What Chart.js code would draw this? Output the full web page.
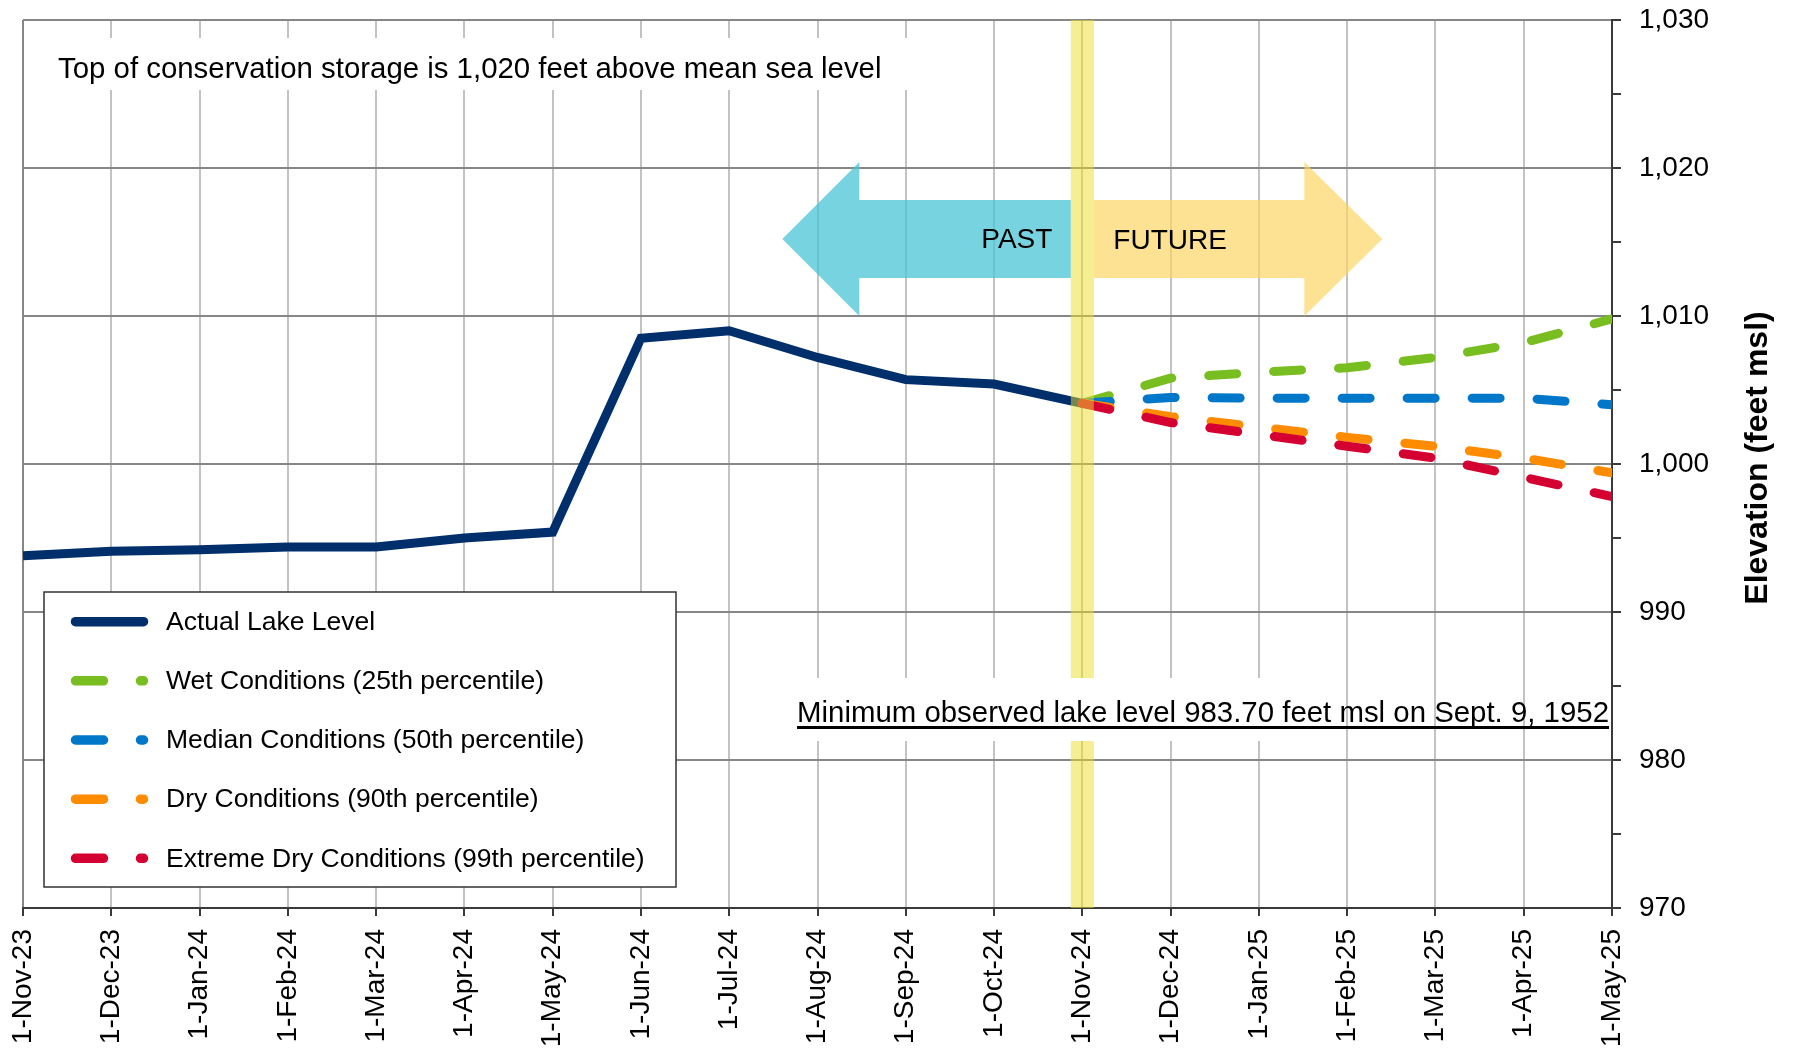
<!DOCTYPE html>
<html>
<head>
<meta charset="utf-8">
<title>Lake Level Projection</title>
<script src="https://cdn.jsdelivr.net/npm/chart.js@4.4.1/dist/chart.umd.min.js"></script>
<style>
  html, body { margin: 0; padding: 0; background: #fff; }
  #wrap { width: 1798px; height: 1049px; }
</style>
</head>
<body>
<div id="wrap"><canvas id="chart" width="1798" height="1049"></canvas></div>
<script>
const MONTHS = [
  '1-Nov-23', '1-Dec-23', '1-Jan-24', '1-Feb-24', '1-Mar-24', '1-Apr-24', '1-May-24',
  '1-Jun-24', '1-Jul-24', '1-Aug-24', '1-Sep-24', '1-Oct-24', '1-Nov-24', '1-Dec-24',
  '1-Jan-25', '1-Feb-25', '1-Mar-25', '1-Apr-25', '1-May-25'
];

// observed monthly elevations, Nov-23 .. Nov-24
const ACTUAL_LEVEL = [993.8, 994.1, 994.2, 994.4, 994.4, 995.0, 995.4, 1008.5, 1009.0, 1007.2, 1005.7, 1005.4, 1004.1];

// projections, Nov-24 .. May-25
const WET_LEVEL = [1004.1, 1005.8, 1006.2, 1006.5, 1007.2, 1008.2, 1009.8];
const MEDIAN_LEVEL = [1004.1, 1004.5, 1004.45, 1004.45, 1004.45, 1004.45, 1004.0];
const DRY_LEVEL = [1004.1, 1003.2, 1002.5, 1001.8, 1001.2, 1000.4, 999.4];
const EXTREME_DRY_LEVEL = [1004.1, 1002.8, 1002.0, 1001.2, 1000.4, 999.1, 997.8];

const NOW_INDEX = 12; // 1-Nov-24
const ARROW_LEVEL = 1015.2;

const FONT = "'Liberation Sans', Arial, Helvetica, sans-serif";
const DASH = [28, 37];

Chart.defaults.font.family = FONT;
Chart.defaults.color = '#000';

// forecasts start where the observed record stops
function fromNow(values) {
  return new Array(NOW_INDEX).fill(null).concat(values);
}

function drawArrow(ctx, base, neck, tip, cy, color) {
  const shaft = 39, head = 77;
  ctx.beginPath();
  ctx.moveTo(base, cy - shaft);
  ctx.lineTo(neck, cy - shaft);
  ctx.lineTo(neck, cy - head);
  ctx.lineTo(tip, cy);
  ctx.lineTo(neck, cy + head);
  ctx.lineTo(neck, cy + shaft);
  ctx.lineTo(base, cy + shaft);
  ctx.closePath();
  ctx.fillStyle = color;
  ctx.fill();
}

const BAND_HALF = 11.5;

const overlays = {
  id: 'overlays',
  beforeDatasetsDraw(chart) {
    const { ctx, scales: { x, y } } = chart;
    const bx = x.getPixelForValue(NOW_INDEX);
    const cy = y.getPixelForValue(ARROW_LEVEL);
    ctx.save();
    drawArrow(ctx, bx - BAND_HALF, bx - 223, bx - 300, cy, 'rgba(73,196,212,0.75)');
    drawArrow(ctx, bx + BAND_HALF, bx + 222, bx + 300, cy, 'rgba(252,212,96,0.68)');
    ctx.fillStyle = '#000';
    ctx.font = '28px ' + FONT;
    ctx.textBaseline = 'middle';
    ctx.textAlign = 'right';
    ctx.fillText('PAST', bx - 30, cy + 1);
    ctx.textAlign = 'left';
    ctx.fillText('FUTURE', bx + 31, cy + 2);
    ctx.restore();
  },
  afterDatasetsDraw(chart) {
    const { ctx, chartArea: area, scales: { x } } = chart;
    const bx = x.getPixelForValue(NOW_INDEX);
    ctx.save();

    // today marker
    ctx.fillStyle = 'rgba(238,222,40,0.5)';
    ctx.fillRect(bx - BAND_HALF, area.top, BAND_HALF * 2, area.bottom - area.top);

    // notes
    ctx.fillStyle = '#fff';
    ctx.fillRect(30, 38, 920, 52);
    ctx.fillRect(765, 678, 540, 63);
    ctx.fillStyle = '#000';
    ctx.font = '29.4px ' + FONT;
    ctx.textBaseline = 'alphabetic';
    ctx.textAlign = 'left';
    ctx.fillText('Top of conservation storage is 1,020 feet above mean sea level', 58, 78);
    const minNote = 'Minimum observed lake level 983.70 feet msl on Sept. 9, 1952';
    const w = ctx.measureText(minNote).width;
    ctx.textAlign = 'right';
    ctx.fillText(minNote, 1609, 721.5);
    ctx.fillRect(1609 - w, 726, w, 3);

    // legend
    ctx.fillStyle = '#fff';
    ctx.fillRect(44, 592, 632, 295);
    ctx.strokeStyle = '#333';
    ctx.lineWidth = 1.5;
    ctx.strokeRect(44, 592, 632, 295);
    ctx.font = '26.5px ' + FONT;
    ctx.textAlign = 'left';
    ctx.textBaseline = 'middle';
    chart.data.datasets.forEach((ds, i) => {
      const ly = 621.7 + i * 59.15;
      ctx.beginPath();
      ctx.setLineDash(ds.borderDash || []);
      ctx.lineCap = 'round';
      ctx.lineWidth = 9.5;
      ctx.strokeStyle = ds.borderColor;
      ctx.moveTo(75.5, ly);
      ctx.lineTo(143.5, ly);
      ctx.stroke();
      ctx.setLineDash([]);
      ctx.fillStyle = '#000';
      ctx.fillText(ds.label, 166, ly + 1);
    });

    // axis title, reading bottom to top
    ctx.translate(1758, 458);
    ctx.rotate(-Math.PI / 2);
    ctx.font = 'bold 32px ' + FONT;
    ctx.textAlign = 'center';
    ctx.textBaseline = 'middle';
    ctx.fillText('Elevation (feet msl)', 0, 0);
    ctx.restore();
  }
};

const lakeChart = new Chart(document.getElementById('chart'), {
  type: 'line',
  data: {
    labels: MONTHS,
    datasets: [
      { label: 'Actual Lake Level', data: ACTUAL_LEVEL, borderColor: '#002f6c',
        borderCapStyle: 'butt', borderJoinStyle: 'miter', order: 5 },
      { label: 'Wet Conditions (25th percentile)', data: fromNow(WET_LEVEL), borderColor: '#78be20', borderDash: DASH, order: 4 },
      { label: 'Median Conditions (50th percentile)', data: fromNow(MEDIAN_LEVEL), borderColor: '#0077c8', borderDash: DASH, order: 3 },
      { label: 'Dry Conditions (90th percentile)', data: fromNow(DRY_LEVEL), borderColor: '#ff8c00', borderDash: DASH, order: 2 },
      { label: 'Extreme Dry Conditions (99th percentile)', data: fromNow(EXTREME_DRY_LEVEL), borderColor: '#d50032', borderDash: DASH, order: 1 }
    ]
  },
  options: {
    responsive: false,
    animation: false,
    devicePixelRatio: 1,
    layout: { padding: { left: 23, top: 20, right: 0, bottom: 0 } },
    elements: {
      point: { radius: 0 },
      line: { borderWidth: 9, tension: 0, borderCapStyle: 'round', borderJoinStyle: 'round' }
    },
    datasets: { line: { clip: 0, spanGaps: false } },
    plugins: { legend: { display: false }, tooltip: { enabled: false } },
    scales: {
      x: {
        type: 'category',
        offset: false,
        grid: {
          offset: false,
          color: c => c.index === 0 ? '#868686' : '#c3c3c3',
          lineWidth: 2,
          tickLength: 8,
          tickColor: '#3a3a3a',
          tickWidth: 2
        },
        border: { color: '#3a3a3a', width: 2 },
        ticks: { autoSkip: false, maxRotation: 90, minRotation: 90, padding: 13, color: '#000', font: { size: 28 } },
        afterFit: s => { s.height = 141; }
      },
      y: {
        position: 'right',
        min: 970,
        max: 1030,
        grid: {
          color: c => (c.tick && c.tick.value % 10 === 0) ? '#868686' : 'rgba(0,0,0,0)',
          lineWidth: 2,
          tickLength: 9,
          tickColor: '#3a3a3a',
          tickWidth: 2
        },
        border: { color: '#3a3a3a', width: 2 },
        ticks: {
          stepSize: 5,
          padding: 18,
          color: '#000',
          font: { size: 28 },
          callback: v => v % 10 === 0 ? v.toLocaleString('en-US') : ''
        },
        afterFit: s => {
          s.width = 186;
          // labels only need half their height above the top tick
          s.paddingTop = 17;
          s.paddingBottom = 17;
        }
      }
    }
  },
  plugins: [overlays]
});
</script>
</body>
</html>
